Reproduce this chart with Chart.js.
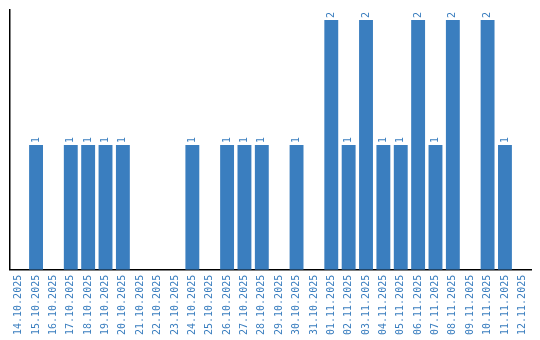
<!DOCTYPE html>
<html>
<head>
<meta charset="utf-8">
<script src="https://cdn.jsdelivr.net/npm/chart.js@4/dist/chart.umd.min.js"></script>
<style>
  html, body { margin: 0; padding: 0; background: #fff; }
  #wrap { width: 540px; height: 340px; }
</style>
</head>
<body>
<div id="wrap"><canvas id="chart"></canvas></div>
<script>
// données du graphique
const dates = [
    '14.10.2025', '15.10.2025', '16.10.2025', '17.10.2025', '18.10.2025',
    '19.10.2025', '20.10.2025', '21.10.2025', '22.10.2025', '23.10.2025',
    '24.10.2025', '25.10.2025', '26.10.2025', '27.10.2025', '28.10.2025',
    '29.10.2025', '30.10.2025', '31.10.2025', '01.11.2025', '02.11.2025',
    '03.11.2025', '04.11.2025', '05.11.2025', '06.11.2025', '07.11.2025',
    '08.11.2025', '09.11.2025', '10.11.2025', '11.11.2025', '12.11.2025'
];
const counts = [
    0, 1, 0, 1, 1,
    1, 1, 0, 0, 0,
    1, 0, 1, 1, 1,
    0, 1, 0, 2, 1,
    2, 1, 1, 2, 1,
    2, 0, 2, 1, 0
];

const blue = '#3a7ebf';
const monoFont = { family: '"DejaVu Sans Mono", monospace', size: 10 };

// étiquettes de valeur au-dessus des barres (texte vertical)
const valueLabels = {
    id: 'valueLabels',
    afterDatasetsDraw(chart) {
        const ctx = chart.ctx;
        const meta = chart.getDatasetMeta(0);
        ctx.save();
        ctx.fillStyle = blue;
        ctx.font = '10px "DejaVu Sans Mono", monospace';
        ctx.textAlign = 'left';
        ctx.textBaseline = 'middle';
        meta.data.forEach((bar, i) => {
            const v = counts[i];
            if (!v) return;
            ctx.save();
            ctx.translate(bar.x, bar.y - 2);
            ctx.rotate(-Math.PI / 2);
            ctx.fillText(String(v), 0, 0);
            ctx.restore();
        });
        ctx.restore();
    }
};

new Chart(document.getElementById('chart'), {
    type: 'bar',
    data: {
        labels: dates,
        datasets: [{
            data: counts,
            backgroundColor: blue,
            borderWidth: 0,
            barPercentage: 0.8,
            categoryPercentage: 1
        }]
    },
    options: {
        responsive: true,
        maintainAspectRatio: false,
        animation: false,
        layout: { padding: { left: 10, right: 9, top: 10, bottom: 0 } },
        plugins: {
            legend: { display: false },
            tooltip: { enabled: false }
        },
        scales: {
            x: {
                grid: { display: false, drawTicks: false },
                border: { display: true, color: '#000', width: 1.5 },
                ticks: {
                    color: blue,
                    font: monoFont,
                    minRotation: 90,
                    maxRotation: 90,
                    autoSkip: false,
                    padding: 5
                }
            },
            y: {
                min: 0,
                max: Math.max(...counts) * 1.04,
                grid: { display: false, drawTicks: false },
                border: { display: true, color: '#000', width: 1.5 },
                ticks: { display: false }
            }
        }
    },
    plugins: [valueLabels]
});
</script>
</body>
</html>
